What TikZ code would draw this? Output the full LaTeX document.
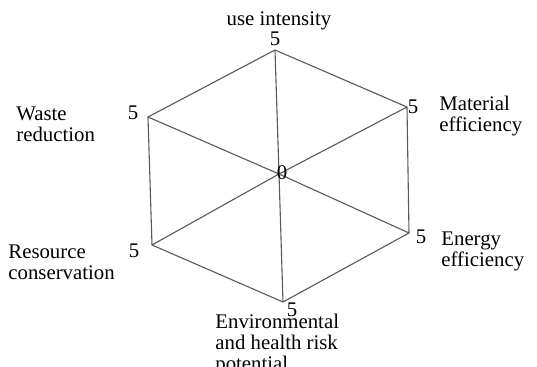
\documentclass[tikz,border=0pt]{standalone}
\usepackage{fontspec}
\setmainfont{Liberation Serif}
\usepackage{tikz}
\usetikzlibrary{positioning,calc}

\tikzset{
  axisline/.style={draw=black!65,line width=0.55pt},
  axislabel/.style={font=\fontsize{10.4}{10.5}\selectfont,inner sep=0pt,align=left,anchor=north west},
  scorelabel/.style={font=\fontsize{10.4}{10.5}\selectfont,inner sep=0pt}
}

\begin{document}
\begin{tikzpicture}[x=0.5pt,y=-0.5pt]
\useasboundingbox (0,0) rectangle (537,367);

% Vertices of the hexagon
\coordinate (c) at (279,174);
\coordinate (vTop) at (275,50);
\coordinate (vMat) at (407,107);
\coordinate (vEne) at (409,233);
\coordinate (vEnv) at (283,302);
\coordinate (vRes) at (152,245);
\coordinate (vWas) at (148,117);

% Hexagon
\draw[axisline] (vTop) -- (vMat) -- (vEne) -- (vEnv) -- (vRes) -- (vWas) -- cycle;

% Spokes
\foreach \v in {vTop,vMat,vEne,vEnv,vRes,vWas}
  \draw[axisline] (c) -- (\v);

% Scores
\node[scorelabel] (zero) at (282,173) {0};
\node[scorelabel] (sTop) at (275,39) {5};
\node[scorelabel] (sMat) at (413,107) {5};
\node[scorelabel] (sEne) at (421,237) {5};
\node[scorelabel] (sEnv) at (292,310) {5};
\node[scorelabel] (sRes) at (134,251) {5};
\node[scorelabel] (sWas) at (133,113) {5};

% Axis names
\node[scorelabel,anchor=base] (lTop) at (279,26) {use intensity};
\node[axislabel] (lMat) at (439,96) {Material\\efficiency};
\node[axislabel] (lEne) at (441,231) {Energy\\efficiency};
\node[axislabel] (lEnv) at (215,314) {Environmental\\and health risk\\potential};
\node[axislabel] (lRes) at (8,244) {Resource\\conservation};
\node[axislabel] (lWas) at (16,106) {Waste\\reduction};
\end{tikzpicture}
\end{document}
